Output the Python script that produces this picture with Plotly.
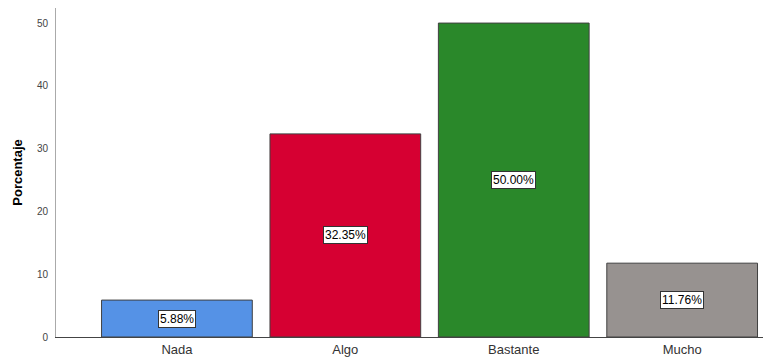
import plotly.graph_objects as go

categories = ["Nada", "Algo", "Bastante", "Mucho"]
values = [5.88, 32.35, 50.00, 11.76]
colors = ["#5592e6", "#d60032", "#2a882a", "#979290"]
y_ticks = [0, 10, 20, 30, 40, 50]

fig = go.Figure()
fig.add_trace(go.Bar(
    x=list(range(len(categories))), y=values,
    marker=dict(color=colors, line=dict(color="#404040", width=1)),
    width=0.895, hoverinfo="skip",
))

for i, v in enumerate(values):
    fig.add_annotation(
        x=i, y=v / 2, xref="x", yref="y",
        text=f"{v:.2f}%", showarrow=False,
        font=dict(family="Liberation Sans, Arial", size=12, color="#000"),
        bgcolor="white", bordercolor="#333", borderwidth=1, borderpad=1,
    )

fig.update_layout(
    width=763, height=360,
    margin=dict(l=56, r=0, t=8, b=23),
    paper_bgcolor="white", plot_bgcolor="white",
    showlegend=False,
    font=dict(family="Liberation Sans, Arial"),
    xaxis=dict(
        range=[-0.718, 3.48],
        tickmode="array", tickvals=list(range(len(categories))), ticktext=categories,
        tickfont=dict(size=13, color="#333"),
        showgrid=False, zeroline=False,
        showline=True, linecolor="#444", linewidth=1,
        ticks="",
    ),
    yaxis=dict(
        range=[0, 52.4],
        tickmode="array", tickvals=y_ticks,
        tickfont=dict(size=10, color="#444"),
        showgrid=False, zeroline=False,
        showline=True, linecolor="#aaa", linewidth=1,
        ticks="", ticklabelstandoff=5,
        title=dict(text="<b>Porcentaje</b>", font=dict(size=13, color="#000"), standoff=11),
    ),
)

fig.write_html("out.html", config={"displayModeBar": False},
               post_script="document.body.style.margin='0';document.body.style.overflow='hidden';")
